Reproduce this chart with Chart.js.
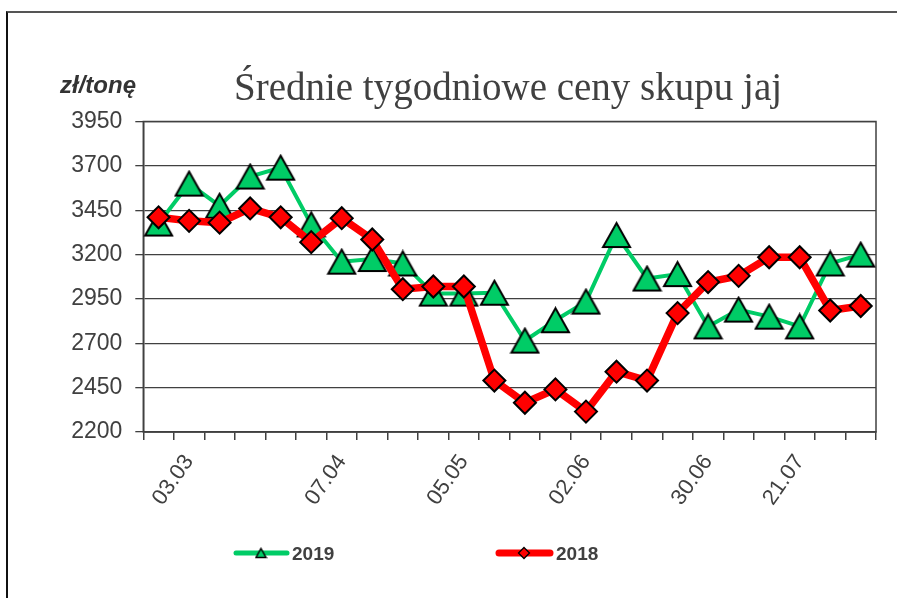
<!DOCTYPE html>
<html>
<head>
<meta charset="utf-8">
<script src="https://cdn.jsdelivr.net/npm/chart.js@4.4.1/dist/chart.umd.min.js"></script>
<style>
  html, body { margin: 0; padding: 0; background: #fff; }
  #wrap { position: relative; width: 897px; height: 598px; overflow: hidden; }
  #frame { position: absolute; left: 6px; top: 11px; right: -5px; bottom: -5px;
           border-top: 2px solid #555; border-left: 2px solid #111; }
  #chart { position: absolute; left: 0; top: 0; }
</style>
</head>
<body>
<div id="wrap">
  <div id="frame"></div>
  <canvas id="chart" width="897" height="598"></canvas>
</div>
<script>
// weekly dates (category axis) and the ones that get a visible label
const categories = ['24.02', '03.03', '10.03', '17.03', '24.03', '31.03', '07.04', '14.04',
  '21.04', '28.04', '05.05', '12.05', '19.05', '26.05', '02.06', '09.06', '16.06', '23.06',
  '30.06', '07.07', '14.07', '21.07', '28.07', '04.08'];
const shownLabels = ['03.03', '07.04', '05.05', '02.06', '30.06', '21.07'];

// prices, zł/tonę
const prices2019 = [3375, 3600, 3475, 3640, 3690, 3370, 3160, 3175, 3150, 2980, 2980, 2985,
  2715, 2830, 2935, 3310, 3065, 3090, 2795, 2890, 2850, 2795, 3150, 3200];
const prices2018 = [3410, 3390, 3380, 3460, 3410, 3270, 3405, 3285, 3005, 3020, 3020, 2490,
  2365, 2440, 2315, 2540, 2490, 2870, 3045, 3080, 3185, 3185, 2885, 2910];

const yTicks = [2200, 2450, 2700, 2950, 3200, 3450, 3700, 3950];

const GREEN = '#00CC66';
const RED = '#FF0000';
const INK = '#404040';

// triangle marker centred on its bounding box (like the spreadsheet one)
function triangleImage(w, h, lw) {
  const c = document.createElement('canvas');
  c.width = w + lw * 2;
  c.height = h + lw * 2;
  const ctx = c.getContext('2d');
  ctx.beginPath();
  ctx.moveTo(c.width / 2, lw);
  ctx.lineTo(c.width - lw, c.height - lw);
  ctx.lineTo(lw, c.height - lw);
  ctx.closePath();
  ctx.fillStyle = GREEN;
  ctx.fill();
  ctx.lineWidth = lw;
  ctx.lineJoin = 'miter';
  ctx.strokeStyle = '#000';
  ctx.stroke();
  return c;
}

function diamondPath(ctx, x, y, r) {
  ctx.beginPath();
  ctx.moveTo(x, y - r);
  ctx.lineTo(x + r, y);
  ctx.lineTo(x, y + r);
  ctx.lineTo(x - r, y);
  ctx.closePath();
}

const triBig = triangleImage(27, 24, 2);
const triSmall = triangleImage(10, 9, 1.5);

const framePlugin = {
  id: 'plotFrame',
  beforeDatasetsDraw(chart) {
    const a = chart.chartArea;
    const ctx = chart.ctx;
    ctx.save();
    ctx.strokeStyle = INK;
    ctx.lineWidth = 1.5;
    ctx.strokeRect(a.left, a.top, a.right - a.left, a.bottom - a.top);
    ctx.restore();
  }
};

const textPlugin = {
  id: 'texts',
  afterDraw(chart) {
    const ctx = chart.ctx;
    ctx.save();
    ctx.fillStyle = INK;
    ctx.textAlign = 'center';
    ctx.textBaseline = 'alphabetic';
    ctx.font = '39px "Liberation Serif", serif';
    ctx.fillText('Średnie tygodniowe ceny skupu jaj', 508, 100);

    ctx.fillStyle = '#333';
    ctx.textAlign = 'left';
    ctx.font = 'italic bold 24px "Liberation Sans", Arial, sans-serif';
    ctx.fillText('zł/tonę', 60, 93);

    // legend
    const y = 553;
    ctx.lineCap = 'round';
    ctx.strokeStyle = GREEN;
    ctx.lineWidth = 5;
    ctx.beginPath(); ctx.moveTo(236, y); ctx.lineTo(287, y); ctx.stroke();
    ctx.drawImage(triSmall, 261 - triSmall.width / 2, y - triSmall.height / 2);

    ctx.strokeStyle = RED;
    ctx.lineWidth = 7;
    ctx.beginPath(); ctx.moveTo(499, y); ctx.lineTo(550, y); ctx.stroke();
    diamondPath(ctx, 524, y, 5.5);
    ctx.fillStyle = RED; ctx.fill();
    ctx.lineWidth = 1.3; ctx.strokeStyle = '#000'; ctx.stroke();

    ctx.fillStyle = INK;
    ctx.font = 'bold 19px "Liberation Sans", Arial, sans-serif';
    ctx.fillText('2019', 292, 560);
    ctx.fillText('2018', 556, 560);
    ctx.restore();
  }
};

new Chart(document.getElementById('chart'), {
  type: 'line',
  data: {
    labels: categories,
    datasets: [
      {
        label: '2019',
        data: prices2019,
        order: 2,
        borderColor: GREEN,
        borderWidth: 4,
        tension: 0,
        pointStyle: triBig,
        pointRadius: 14,
        pointHoverRadius: 14
      },
      {
        label: '2018',
        data: prices2018,
        order: 1,
        borderColor: RED,
        borderWidth: 7.5,
        tension: 0,
        pointStyle: 'rectRot',
        pointRadius: 11,
        pointHoverRadius: 11,
        pointBackgroundColor: RED,
        pointBorderColor: '#000',
        pointBorderWidth: 2
      }
    ]
  },
  options: {
    responsive: false,
    animation: false,
    devicePixelRatio: 1,
    layout: { padding: { top: 121.5, right: 21, bottom: 0, left: 0 } },
    plugins: {
      legend: { display: false },
      title: { display: false },
      tooltip: { enabled: false }
    },
    scales: {
      x: {
        type: 'category',
        offset: true,
        afterFit(scale) { scale.height = 166; },
        grid: {
          offset: true,
          drawOnChartArea: false,
          drawTicks: true,
          tickLength: 8,
          color: INK,
          lineWidth: 1.5
        },
        border: { display: true, color: INK, width: 1.5 },
        ticks: {
          autoSkip: false,
          minRotation: 55,
          maxRotation: 55,
          padding: 10,
          color: INK,
          font: { family: '"Liberation Sans", Arial, sans-serif', size: 22 },
          callback(value, index) {
            const lab = categories[index];
            return shownLabels.includes(lab) ? lab : '';
          }
        }
      },
      y: {
        min: yTicks[0],
        max: yTicks[yTicks.length - 1],
        afterFit(scale) { scale.width = 143.3; },
        afterBuildTicks(scale) { scale.ticks = yTicks.map(v => ({ value: v })); },
        grid: {
          color: INK,
          lineWidth: 1.3,
          tickLength: 8
        },
        border: { display: true, color: INK, width: 1.5 },
        ticks: {
          padding: 13,
          color: INK,
          font: { family: '"Liberation Sans", Arial, sans-serif', size: 23 },
          callback(value) { return String(value); }
        }
      }
    }
  },
  plugins: [framePlugin, textPlugin]
});
</script>
</body>
</html>
